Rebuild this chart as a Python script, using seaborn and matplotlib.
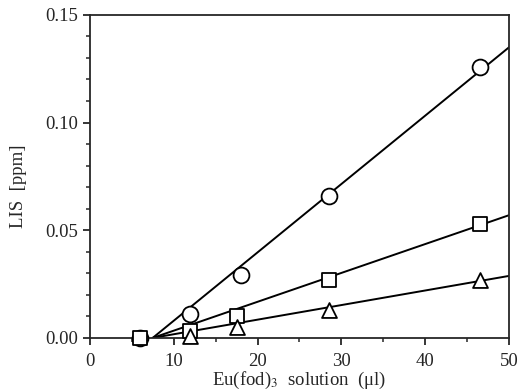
import numpy as np
import pandas as pd
import seaborn as sns
import matplotlib.pyplot as plt
from matplotlib.ticker import MultipleLocator

# measured points
circle_x = [6, 12, 18, 28.5, 46.5]
circle_y = [0.0, 0.011, 0.029, 0.066, 0.126]
square_x = [6, 12, 17.5, 28.5, 46.5]
square_y = [0.0, 0.003, 0.010, 0.027, 0.053]
triangle_x = [12, 17.5, 28.5, 46.5]
triangle_y = [0.001, 0.005, 0.013, 0.027]

# fitted lines (end points)
line_x = [7.5, 50]
circle_line = [0.0, 0.135]
square_line = [0.0, 0.057]
triangle_line = [0.0, 0.0288]

sns.set_style("ticks")
plt.rcParams['font.family'] = ['Liberation Serif', 'DejaVu Serif']
plt.rcParams['mathtext.fontset'] = 'stix'

fig = plt.figure(figsize=(5.19, 3.92), dpi=100)
ax = fig.add_axes([0.173, 0.138, 0.808, 0.824])

for ly in [circle_line, square_line, triangle_line]:
    sns.lineplot(x=line_x, y=ly, ax=ax, color='black', linewidth=1.4)

for xs, ys, m, s in [(circle_x, circle_y, 'o', 130),
                     (square_x, square_y, 's', 115),
                     (triangle_x, triangle_y, '^', 115)]:
    sns.scatterplot(x=xs, y=ys, ax=ax, marker=m, s=s, facecolor='white',
                    edgecolor='black', linewidth=1.3, zorder=3, clip_on=False)

ax.set_xlim(0, 50)
ax.set_ylim(0, 0.15)
ax.set_xticks([0, 10, 20, 30, 40, 50])
ax.set_yticks([0.0, 0.05, 0.10, 0.15])
ax.set_yticklabels(['0.00', '0.05', '0.10', '0.15'])
ax.xaxis.set_minor_locator(MultipleLocator(5))
ax.yaxis.set_minor_locator(MultipleLocator(0.01))
ax.tick_params(axis='both', which='major', direction='out', length=5, width=1.3,
               labelsize=13.5, top=False, right=False)
ax.tick_params(axis='x', which='major', pad=6)
ax.tick_params(axis='both', which='minor', direction='out', length=3, width=1.1,
               top=False, right=False)
for sp in ax.spines.values():
    sp.set_linewidth(1.3)
    sp.set_visible(True)

ax.set_xlabel(r'Eu(fod)$_3$  solution  ($\mathregular{\mu}$l)', fontsize=13.5)
ax.set_ylabel('LIS  [ppm]', fontsize=13.5)
ax.xaxis.set_label_coords(0.5, -0.098)
ax.yaxis.set_label_coords(-0.15, 0.47)

fig.savefig('out.png', dpi=100)
